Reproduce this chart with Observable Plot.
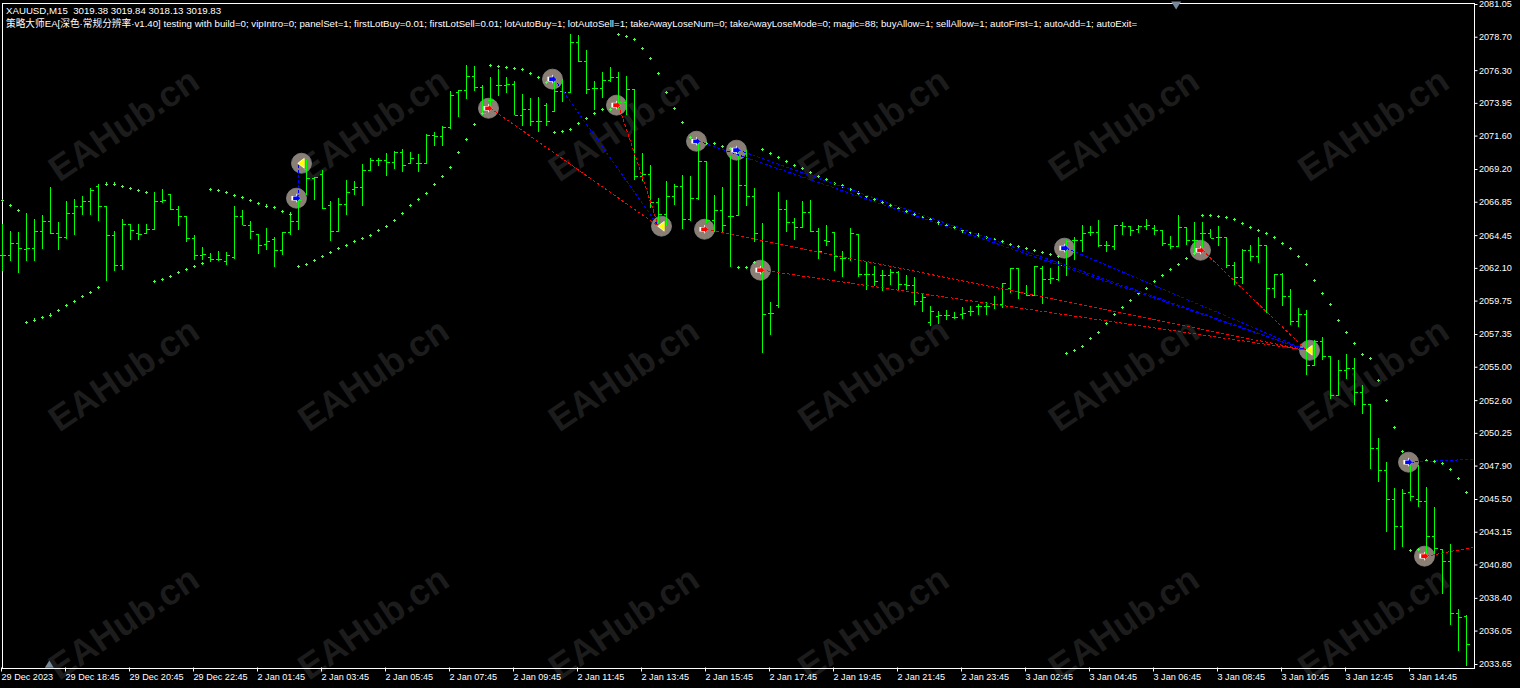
<!DOCTYPE html>
<html>
<head>
<meta charset="utf-8">
<script src="https://cdn.jsdelivr.net/npm/d3@7"></script>
<script src="https://cdn.jsdelivr.net/npm/@observablehq/plot@0.6"></script>
<style>
html,body{margin:0;padding:0;background:#000;overflow:hidden}
svg{display:block}
</style>
</head>
<body>
<div id="chart"></div>
<script>
const titleLine1 = "XAUUSD,M15\u00a0\u00a03019.38 3019.84 3018.13 3019.83";
const titleLine2 = "策略大师EA[深色·常规分辨率·v1.40] testing with build=0; vipIntro=0; panelSet=1; firstLotBuy=0.01; firstLotSell=0.01; lotAutoBuy=1; lotAutoSell=1; takeAwayLoseNum=0; takeAwayLoseMode=0; magic=88; buyAllow=1; sellAllow=1; autoFirst=1; autoAdd=1; autoExit=";
const watermark = "EAHub.cn";

const priceTicks = [2081.05,2078.70,2076.30,2073.95,2071.60,2069.20,2066.85,2064.45,2062.10,2059.75,2057.35,2055.00,2052.60,2050.25,2047.90,2045.50,2043.15,2040.80,2038.40,2036.05,2033.65];
const timeLabels = ["29 Dec 2023","29 Dec 18:45","29 Dec 20:45","29 Dec 22:45","2 Jan 01:45","2 Jan 03:45","2 Jan 05:45","2 Jan 07:45","2 Jan 09:45","2 Jan 11:45","2 Jan 13:45","2 Jan 15:45","2 Jan 17:45","2 Jan 19:45","2 Jan 21:45","2 Jan 23:45","3 Jan 02:45","3 Jan 04:45","3 Jan 06:45","3 Jan 08:45","3 Jan 10:45","3 Jan 12:45","3 Jan 14:45"];

const highs = [2065.27,2064.77,2064.67,2066.04,2065.64,2065.92,2067.93,2065.39,2066.93,2067.07,2067.29,2067.83,2068.12,2066.57,2064.77,2065.63,2065.27,2065.27,2065.27,2067.52,2067.76,2067.40,2066.57,2065.85,2064.46,2063.60,2063.17,2063.29,2063.24,2066.57,2066.28,2065.49,2064.55,2064.98,2064.31,2064.67,2066.04,2067.12,2069.87,2068.60,2069.15,2066.92,2067.12,2068.43,2068.31,2069.56,2069.99,2069.99,2070.35,2070.47,2070.63,2070.42,2070.28,2071.71,2071.86,2072.26,2074.78,2074.90,2076.66,2076.59,2075.20,2075.80,2076.38,2075.80,2075.52,2074.61,2074.29,2074.37,2073.94,2075.49,2075.66,2078.91,2078.84,2077.77,2075.49,2076.16,2076.52,2076.16,2075.90,2074.96,2070.34,2069.51,2067.11,2068.33,2068.14,2068.76,2068.72,2071.06,2069.77,2067.35,2067.90,2070.10,2070.46,2070.58,2067.83,2065.32,2059.64,2067.54,2066.99,2065.68,2066.92,2066.99,2064.96,2065.20,2064.69,2063.34,2064.97,2064.53,2062.52,2062.21,2061.97,2062.04,2061.90,2061.59,2061.45,2060.25,2059.34,2058.98,2059.10,2058.96,2059.32,2059.39,2059.53,2059.67,2060.11,2061.02,2062.09,2062.09,2060.90,2062.26,2062.26,2062.09,2062.62,2064.13,2064.29,2065.20,2065.13,2065.56,2064.03,2065.20,2065.37,2065.13,2065.20,2065.64,2065.20,2064.85,2064.41,2065.92,2065.04,2065.40,2065.40,2064.89,2065.13,2064.32,2062.52,2063.46,2063.77,2064.32,2063.77,2061.69,2061.73,2060.61,2059.22,2059.10,2056.95,2057.14,2055.80,2055.51,2055.92,2055.63,2053.71,2052.35,2049.88,2048.18,2046.29,2046.22,2047.97,2047.97,2046.36,2044.93,2041.91,2042.27,2037.60,2037.15];
const lows = [2061.85,2062.57,2061.70,2062.57,2062.57,2063.48,2064.53,2063.36,2064.19,2064.43,2065.92,2065.92,2065.44,2061.13,2061.85,2061.92,2064.08,2064.08,2064.60,2064.79,2066.76,2066.23,2065.08,2063.93,2062.64,2062.64,2062.52,2062.57,2062.33,2062.76,2065.15,2064.19,2063.12,2063.36,2062.18,2062.99,2064.48,2064.84,2067.36,2067.00,2066.35,2064.00,2064.65,2065.87,2067.36,2066.52,2069.10,2069.44,2068.67,2069.22,2068.96,2069.63,2068.96,2069.56,2070.83,2070.83,2072.07,2072.91,2074.22,2074.77,2073.22,2073.46,2074.41,2074.65,2073.10,2072.31,2072.26,2071.83,2072.26,2073.26,2073.98,2074.65,2076.86,2074.61,2073.46,2074.29,2075.42,2073.46,2073.10,2068.43,2068.31,2066.39,2065.32,2065.08,2066.63,2064.89,2065.44,2066.94,2065.32,2064.69,2064.69,2062.16,2065.87,2066.51,2063.93,2055.98,2057.30,2059.21,2064.65,2064.12,2064.96,2064.69,2062.75,2063.64,2061.85,2061.47,2062.57,2061.45,2060.54,2060.82,2060.42,2060.85,2060.49,2060.54,2059.46,2058.91,2057.95,2058.05,2058.33,2058.45,2058.45,2058.67,2058.74,2058.74,2059.17,2059.24,2060.30,2059.89,2060.11,2060.11,2059.53,2060.97,2061.18,2061.54,2062.69,2063.27,2064.41,2063.60,2063.27,2063.41,2064.49,2064.41,2064.61,2064.85,2064.49,2063.65,2063.48,2063.65,2063.77,2063.05,2063.41,2064.25,2063.65,2062.09,2060.85,2060.97,2062.57,2062.45,2058.86,2059.91,2059.34,2058.00,2057.83,2054.43,2055.03,2055.46,2052.68,2052.95,2054.14,2052.23,2051.61,2047.66,2046.70,2043.11,2041.82,2042.03,2045.33,2044.93,2041.38,2041.58,2038.66,2036.48,2034.56,2033.48];
const opens = [2063.04,2062.99,2063.88,2063.48,2063.52,2064.75,2065.44,2064.60,2064.31,2066.04,2066.52,2066.90,2067.95,2066.57,2064.46,2062.28,2065.27,2064.60,2064.60,2064.89,2066.93,2067.40,2066.33,2065.85,2064.22,2062.99,2062.88,2062.73,2062.57,2062.85,2065.85,2065.20,2064.55,2063.81,2064.17,2063.38,2064.67,2065.44,2069.20,2068.55,2068.86,2066.64,2064.72,2066.69,2067.79,2067.88,2069.15,2069.82,2069.84,2069.68,2070.42,2069.63,2069.63,2069.63,2071.66,2071.59,2072.21,2074.73,2074.90,2075.85,2075.06,2074.17,2075.25,2075.25,2075.30,2073.10,2073.50,2072.67,2073.82,2073.34,2074.77,2074.70,2078.29,2076.93,2075.01,2075.01,2075.61,2075.80,2074.01,2074.96,2068.67,2068.86,2066.82,2065.96,2067.28,2067.95,2065.60,2067.11,2069.77,2065.56,2066.27,2065.80,2065.87,2068.07,2067.28,2064.12,2058.85,2059.40,2066.32,2065.41,2065.03,2066.08,2064.77,2064.12,2064.69,2062.81,2062.81,2064.53,2061.69,2061.69,2061.61,2061.61,2061.83,2060.92,2060.87,2059.75,2058.19,2058.62,2058.74,2058.57,2058.76,2059.03,2059.34,2059.39,2059.53,2059.53,2060.66,2062.09,2060.30,2060.18,2062.09,2061.30,2061.30,2062.33,2064.13,2064.13,2064.68,2064.68,2063.77,2063.65,2065.18,2065.08,2064.89,2065.13,2064.97,2064.85,2063.84,2063.70,2065.04,2064.13,2064.61,2064.61,2064.32,2064.32,2062.28,2061.45,2063.41,2062.93,2063.77,2060.66,2061.69,2060.11,2058.26,2058.81,2055.10,2056.83,2055.80,2052.99,2054.79,2054.91,2053.16,2052.35,2049.16,2047.61,2045.50,2043.59,2045.98,2045.50,2045.33,2042.82,2041.91,2041.03,2037.31,2037.07];
const closes = [2063.04,2063.88,2063.52,2063.52,2064.75,2065.44,2064.60,2064.31,2066.04,2066.52,2066.90,2067.72,2066.57,2064.46,2062.28,2065.27,2064.84,2064.55,2064.89,2066.93,2067.00,2066.33,2065.85,2064.22,2062.99,2063.12,2062.73,2062.73,2063.05,2065.85,2065.20,2064.72,2063.76,2064.00,2063.38,2064.67,2065.44,2067.00,2068.55,2068.60,2066.40,2064.72,2066.69,2067.57,2067.88,2069.15,2069.82,2069.84,2069.68,2070.42,2069.51,2069.96,2069.63,2071.66,2071.59,2072.21,2074.49,2074.85,2075.85,2075.06,2073.22,2074.17,2075.25,2075.30,2073.10,2073.50,2072.67,2072.67,2072.62,2074.77,2074.70,2078.29,2076.93,2074.94,2075.01,2075.61,2075.80,2074.01,2074.96,2068.67,2068.86,2066.82,2065.96,2067.28,2067.95,2065.60,2067.11,2069.75,2065.56,2066.27,2065.20,2065.80,2068.07,2067.28,2064.60,2058.78,2058.85,2066.32,2065.41,2065.03,2066.08,2064.77,2063.28,2064.00,2062.92,2062.81,2064.61,2061.69,2061.69,2061.13,2061.61,2061.83,2060.92,2060.87,2059.75,2059.99,2058.98,2058.74,2058.74,2058.57,2058.86,2059.03,2059.39,2059.39,2059.53,2061.02,2062.09,2060.39,2060.18,2062.26,2061.30,2061.37,2062.33,2064.01,2064.13,2064.61,2064.68,2063.77,2063.77,2065.18,2065.08,2064.85,2065.08,2065.18,2064.85,2063.89,2063.70,2065.04,2064.13,2064.13,2064.61,2064.25,2064.32,2062.33,2061.45,2063.41,2062.93,2063.77,2060.66,2061.69,2060.11,2058.26,2058.81,2055.10,2056.83,2055.80,2052.99,2054.79,2054.91,2053.16,2052.35,2049.16,2047.61,2045.50,2043.59,2045.93,2045.74,2045.33,2042.82,2041.98,2041.03,2037.31,2037.03,2035.09];
const sar = [2066.97,2066.61,2066.25,2058.21,2058.38,2058.57,2058.74,2059.07,2059.43,2059.72,2060.08,2060.36,2060.72,2068.15,2068.15,2067.98,2067.83,2067.69,2067.55,2061.15,2061.30,2061.51,2061.80,2062.02,2062.23,2062.45,2067.76,2067.69,2067.55,2067.33,2067.19,2066.97,2066.76,2066.57,2066.47,2066.18,2065.99,2062.23,2062.38,2062.66,2062.95,2063.24,2063.52,2063.74,2064.03,2064.24,2064.46,2064.82,2065.10,2065.54,2066.04,2066.61,2067.04,2067.47,2068.12,2068.70,2069.34,2070.42,2071.35,2072.43,2073.22,2076.66,2076.59,2076.52,2076.45,2076.38,2076.09,2075.80,2075.44,2071.85,2071.92,2072.07,2072.50,2072.86,2073.22,2073.50,2073.50,2078.89,2078.75,2078.53,2077.89,2077.17,2076.09,2074.73,2073.58,2072.57,2071.49,2071.25,2071.06,2071.06,2070.85,2070.70,2062.16,2062.16,2062.52,2070.63,2070.34,2070.06,2069.77,2069.48,2069.27,2068.98,2068.69,2068.48,2068.19,2068.02,2067.75,2067.50,2067.27,2067.04,2066.83,2066.62,2066.40,2066.19,2065.97,2065.76,2065.59,2065.37,2065.18,2065.01,2064.80,2064.65,2064.49,2064.32,2064.18,2064.03,2063.82,2063.67,2063.53,2063.39,2063.24,2063.10,2062.95,2055.99,2056.20,2056.49,2057.06,2057.50,2058.14,2058.79,2059.29,2059.79,2060.30,2060.66,2061.16,2061.59,2062.02,2062.38,2062.81,2063.17,2065.90,2065.90,2065.83,2065.76,2065.61,2065.32,2065.04,2064.82,2064.61,2064.32,2063.89,2063.53,2062.95,2062.38,2061.23,2060.30,2059.51,2058.36,2057.50,2056.71,2055.92,2055.63,2054.05,2052.61,2050.67,2048.95,2041.84,2041.91,2048.30,2048.23,2048.09,2047.66,2047.01,2046.00];

const buyBars = [37,69,87,92,133,176];
const buyPrices = [2067.14,2075.69,2071.23,2070.59,2063.55,2048.18];
const buyExitBars = [37,82,163,163,163,183.81];
const buyExitPrices = [2069.65,2065.13,2056.22,2056.22,2056.22,2048.39];
const sellBars = [61,77,88,95,150,178];
const sellPrices = [2073.60,2073.82,2064.91,2061.97,2063.40,2041.43];
const sellExitBars = [82,82,163,163,163,183.81];
const sellExitPrices = [2065.13,2065.13,2056.22,2056.22,2056.22,2042.07];
const closeBars = [37,82,163];
const closePrices = [2069.65,2065.13,2056.22];

const wmBars = [15.2,46.4,77.7,108.9,140.2,171.4];
const wmPrices = [2072.38,2054.43,2036.6];

const axisMarkers = [{i:5.85,p:2033.65,up:true},{i:146.7,p:2081.05,up:false}];

const bars = highs.map((h,i)=>({i,h,l:lows[i],o:opens[i],c:closes[i],s:sar[i]}));
const buys = buyBars.map((b,k)=>({b,p:buyPrices[k],xb:buyExitBars[k],xp:buyExitPrices[k]}));
const sells = sellBars.map((b,k)=>({b,p:sellPrices[k],xb:sellExitBars[k],xp:sellExitPrices[k]}));
const closesX = closeBars.map((b,k)=>({b,p:closePrices[k]}));
const wm = wmPrices.flatMap(p=>wmBars.map(b=>({b,p})));

const poly = pts => ({draw(ctx,size){const r=Math.sqrt(size/Math.PI);pts.forEach(([x,y],k)=>k?ctx.lineTo(x*r,y*r):ctx.moveTo(x*r,y*r));ctx.closePath();}});
const arrow = poly([[-1,-.5],[0,-.5],[0,-1],[1,0],[0,1],[0,.5],[-1,.5]]);
const leftTri = poly([[-1,0],[.7,-1.3],[.7,1.3]]);
const upTri = poly([[0,-1],[1,.6],[-1,.6]]);
const downTri = poly([[0,1],[1,-.6],[-1,-.6]]);

const font = "'Liberation Sans',Arial,sans-serif";
const crisp = {shapeRendering:"crispEdges"};
const green = "#00ff00";

const chart = Plot.plot({
  width:1520,height:688,
  marginLeft:1.5,marginTop:2.5,marginRight:46.5,marginBottom:20.5,
  style:{background:"#000",color:"#fff",fontFamily:font,fontSize:"9.1px"},
  x:{type:"linear",domain:[0,183.875],range:[2,1473]},
  y:{type:"linear",domain:[2033.65,2081.05],range:[664,4]},
  marks:[
    Plot.text(wm,{x:"b",y:"p",text:()=>watermark,rotate:-34,fill:"#1c1c1c",fontSize:36,fontWeight:"bold",fontFamily:font}),
    Plot.dot(closesX,{x:"b",y:"p",r:10,dx:3,fill:"#8a7f72",stroke:"#7c8a96",strokeWidth:.8}),
    Plot.dot(buys,{x:"b",y:"p",r:10,dx:-2,fill:"#8a7f72",stroke:"#8a8a8a",strokeWidth:.8}),
    Plot.dot(sells,{x:"b",y:"p",r:10,dx:-2,fill:"#8a7f72",stroke:"#8a8a8a",strokeWidth:.8}),
    Plot.frame({stroke:"#fff",strokeWidth:1,...crisp}),
    Plot.ruleX(bars,{x:"i",y1:"l",y2:"h",stroke:green,strokeWidth:1,...crisp}),
    Plot.link(bars,{x1:d=>d.i-.375,x2:"i",y1:"o",y2:"o",stroke:green,strokeWidth:1,...crisp}),
    Plot.link(bars,{x1:"i",x2:d=>d.i+.375,y1:"c",y2:"c",stroke:green,strokeWidth:1,...crisp}),
    Plot.dot(bars,{x:"i",y:"s",symbol:"plus",r:1.25,stroke:"#44ff44",strokeWidth:1,...crisp}),
    Plot.link(buys,{x1:"b",y1:"p",x2:"xb",y2:"xp",stroke:"#0000ff",strokeWidth:1,strokeDasharray:"3,2",...crisp}),
    Plot.link(sells,{x1:"b",y1:"p",x2:"xb",y2:"xp",stroke:"#ff0000",strokeWidth:1,strokeDasharray:"3,2",...crisp}),
    Plot.dot(buys,{x:"b",y:"p",r:4.6,dx:-2.5,symbol:arrow,fill:"#fff",stroke:"none"}),
    Plot.dot(buys,{x:"b",y:"p",r:3.6,dx:-1.7,symbol:arrow,fill:"#0000ff",stroke:"none"}),
    Plot.dot(sells,{x:"b",y:"p",r:4.6,dx:-2.5,symbol:arrow,fill:"#fff",stroke:"none"}),
    Plot.dot(sells,{x:"b",y:"p",r:3.6,dx:-1.7,symbol:arrow,fill:"#ff0000",stroke:"none"}),
    Plot.dot(closesX,{x:"b",y:"p",r:4.2,dx:3,symbol:leftTri,fill:"#fff",stroke:"none"}),
    Plot.dot(closesX,{x:"b",y:"p",r:3.6,dx:3.5,symbol:leftTri,fill:"#ffff00",stroke:"none"}),
    Plot.dot(axisMarkers.filter(d=>d.up),{x:"i",y:"p",r:4.5,dy:.5,symbol:upTri,fill:"#778899",stroke:"none"}),
    Plot.dot(axisMarkers.filter(d=>!d.up),{x:"i",y:"p",r:5,symbol:downTri,fill:"#778899",stroke:"none"}),
    Plot.axisY(priceTicks,{anchor:"right",tickSize:3,tickPadding:2,stroke:"#fff",tickFormat:d=>d.toFixed(2),fontSize:9.1,fill:"#fff",label:null}),
    Plot.axisX(timeLabels.map((_,k)=>k*8),{anchor:"bottom",tickSize:4,tickPadding:2,textAnchor:"start",dx:-1,stroke:"#fff",fill:"#fff",fontSize:9.1,tickFormat:d=>timeLabels[d/8],label:null}),
    Plot.text([titleLine1],{frameAnchor:"top-left",dx:4,dy:4,text:d=>d,fill:"#fff",textAnchor:"start",lineAnchor:"top",fontSize:9.68,fontFamily:font}),
    Plot.text([titleLine2],{frameAnchor:"top-left",dx:4,dy:17,text:d=>d,fill:"#fff",textAnchor:"start",lineAnchor:"top",fontSize:9.68,fontFamily:font+",'Noto Sans CJK SC'"})
  ]
});
document.getElementById("chart").appendChild(chart);
</script>
</body>
</html>
